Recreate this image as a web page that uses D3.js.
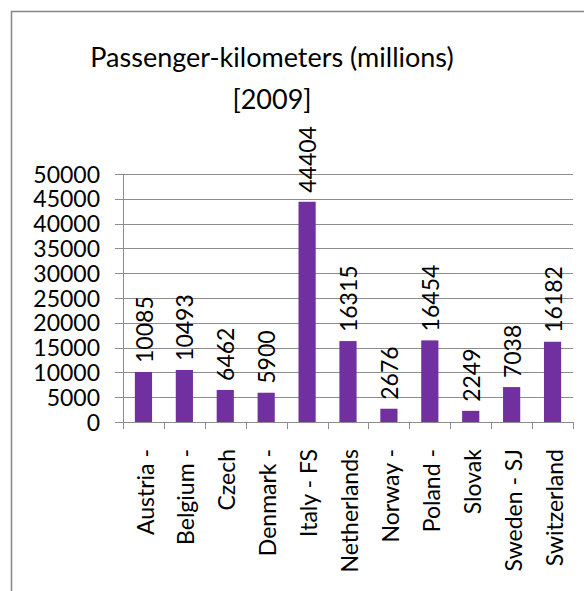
<!DOCTYPE html>
<html><head><meta charset="utf-8">
<script src="https://cdn.jsdelivr.net/npm/d3@7"></script>
<style>body{margin:0;background:#fff;} svg{display:block;}</style>
</head><body>
<script>
const categories = ["Austria -", "Belgium -", "Czech", "Denmark -", "Italy - FS", "Netherlands", "Norway -", "Poland -", "Slovak", "Sweden - SJ", "Switzerland"];
const values = [10085, 10493, 6462, 5900, 44404, 16315, 2676, 16454, 2249, 7038, 16182];
const yTicks = [0, 5000, 10000, 15000, 20000, 25000, 30000, 35000, 40000, 45000, 50000];
const titleLines = ["Passenger-kilometers (millions)", "[2009]"];

const W = 584, H = 591;
const font = "Lato, 'Open Sans', sans-serif";
const svg = d3.select("body").append("svg").attr("width", W).attr("height", H);

// chart border
svg.append("path").attr("d", `M11.5,${H} V11.5 H${W}`).attr("fill", "none").attr("stroke", "#888").attr("stroke-width", 1.5);

const x = d3.scaleBand().domain(categories).range([123, 573]).paddingInner(0.58).paddingOuter(0.29);
const y = d3.scaleLinear().domain([0, 50000]).range([422, 174]);

// gridlines
svg.append("g").selectAll("line").data(yTicks).join("line")
  .attr("x1", 115).attr("x2", 573)
  .attr("y1", d => Math.round(y(d)) + 0.5).attr("y2", d => Math.round(y(d)) + 0.5)
  .attr("stroke", "#8c8c8c").attr("stroke-width", 1);

// y axis
const yAxis = d3.axisLeft(y).tickValues(yTicks).tickSize(0).tickPadding(0).tickFormat(d3.format("d"));
const gy = svg.append("g").attr("transform", "translate(100,0)").call(yAxis);
gy.select(".domain").remove();
gy.selectAll("text").attr("font-family", font).attr("font-size", 23).attr("fill", "#000").attr("dy", "0.35em");
svg.append("line").attr("x1", 123.5).attr("x2", 123.5).attr("y1", 174).attr("y2", 422).attr("stroke", "#8c8c8c");

// x axis ticks at boundaries
const step = x.step();
const bounds = d3.range(categories.length + 1).map(i => 123 + i * step);
svg.append("g").selectAll("line").data(bounds).join("line")
  .attr("x1", d => Math.round(d) + 0.5).attr("x2", d => Math.round(d) + 0.5)
  .attr("y1", 422).attr("y2", 429).attr("stroke", "#8c8c8c");

// bars
svg.append("g").selectAll("rect").data(values).join("rect")
  .attr("x", (d, i) => x(categories[i]))
  .attr("width", x.bandwidth())
  .attr("y", d => y(d))
  .attr("height", d => y(0) - y(d))
  .attr("fill", "#7030A0");

// value labels
svg.append("g").selectAll("text").data(values).join("text")
  .attr("transform", (d, i) => `translate(${x(categories[i]) + x.bandwidth() / 2 + 1},${y(d) - 9}) rotate(-90)`)
  .attr("dy", "0.35em")
  .attr("font-family", font).attr("font-size", 23).attr("fill", "#000")
  .text(d => d);

// category labels
svg.append("g").selectAll("text").data(categories).join("text")
  .attr("transform", d => `translate(${x(d) + x.bandwidth() / 2 + 2},449) rotate(-90)`)
  .attr("dy", "0.35em").attr("text-anchor", "end")
  .attr("font-family", font).attr("font-size", 23).attr("fill", "#000")
  .text(d => d);

// title
svg.append("g").selectAll("text").data(titleLines).join("text")
  .attr("x", 272).attr("y", (d, i) => 67 + i * 42)
  .attr("text-anchor", "middle")
  .attr("font-family", font).attr("font-size", 27).attr("fill", "#000")
  .text(d => d);
</script>
</body></html>
